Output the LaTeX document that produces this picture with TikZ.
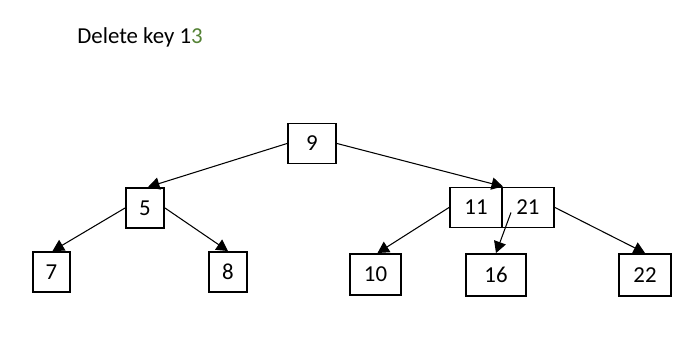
\documentclass[tikz,border=0pt]{standalone}
\usepackage{fontspec}
\setmainfont{Carlito}
\usepackage{tikz}
\usetikzlibrary{positioning, arrows.meta, calc}
\definecolor{keygreen}{RGB}{84,130,53}

\begin{document}
\begin{tikzpicture}[x=0.02cm, y=-0.02cm, >={Triangle[length=6.5pt, width=7pt]},
    keybox/.style={draw, line width=1.1pt, minimum height=0.8cm, inner sep=0pt, font=\fontsize{13}{15}\selectfont},
    link/.style={->, line width=0.6pt}]
  \useasboundingbox (0,0) rectangle (700,350);
  % titel
  \node[anchor=west, inner sep=0pt, font=\fontsize{13}{15}\selectfont] (title) at (77,37) {Delete key 1\textcolor{keygreen}{3}};
  % root
  \node[keybox, minimum width=0.96cm] (n9) at (312,143.5) {9};
  % level 1
  \node[keybox, minimum width=0.76cm] (n5) at (145,208) {5};
  \node[keybox, minimum width=1.04cm] (n11) at (476,207.5) {11};
  \node[keybox, minimum width=1.04cm, right=-1.1pt of n11] (n21) {21};
  % leaves
  \node[keybox, minimum width=0.74cm] (n7) at (51.5,272) {7};
  \node[keybox, minimum width=0.76cm] (n8) at (228,272) {8};
  \node[keybox, minimum width=1.02cm, minimum height=0.82cm] (n10) at (375.5,274.5) {10};
  \node[keybox, minimum width=1.2cm, minimum height=0.84cm] (n16) at (496,275) {16};
  \node[keybox, minimum width=1.04cm, minimum height=0.84cm] (n22) at (645,275) {22};
  \draw[link] (n9.west) -- ($(n5.north)+(3,0)$);
  \draw[link] (n9.east) -- (n11.north east);
  \draw[link] (n5.west) -- ($(n7.north)+(1,0)$);
  \draw[link] (n5.east) -- (n8.north);
  \draw[link] (n11.west) -- ($(n10.north)+(2,0)$);
  \draw[link] ($(n21.center)+(-17,5)$) -- (n16.north);
  \draw[link] (n21.east) -- (n22.north);
\end{tikzpicture}
\end{document}
